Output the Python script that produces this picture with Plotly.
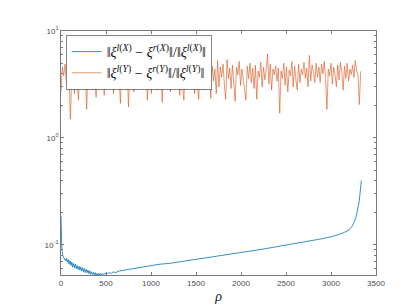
import plotly.graph_objects as go

blue_rho = [0, 5, 10, 20, 30, 40, 50, 60, 70, 80, 90, 100, 110, 120, 130, 140, 150, 160, 170, 180,
            190, 200, 210, 220, 230, 240, 250, 260, 270, 280, 290, 300, 310, 320, 330, 340, 350, 360,
            370, 380, 390, 400, 410, 420, 430, 440, 450, 460, 470, 480, 490, 500, 520, 540, 560, 580,
            600, 650, 700, 800, 900, 1000, 1100, 1200, 1300, 1400, 1500, 1600, 1700, 1800, 1900, 2000,
            2100, 2200, 2300, 2400, 2500, 2600, 2700, 2800, 2900, 3000, 3050, 3100, 3150, 3200, 3230,
            3260, 3280, 3300, 3310, 3320, 3330, 3337]
blue_err = [0.185, 0.12, 0.09, 0.079, 0.076, 0.075, 0.071, 0.075, 0.069, 0.073, 0.066, 0.071, 0.064,
            0.069, 0.062, 0.067, 0.061, 0.066, 0.060, 0.064, 0.059, 0.063, 0.058, 0.062, 0.057, 0.061,
            0.056, 0.060, 0.055, 0.059, 0.055, 0.058, 0.054, 0.057, 0.053, 0.056, 0.053, 0.055, 0.052,
            0.055, 0.052, 0.054, 0.052, 0.054, 0.052, 0.054, 0.052, 0.054, 0.053, 0.054, 0.053, 0.055,
            0.054, 0.055, 0.054, 0.056, 0.055, 0.057, 0.058, 0.060, 0.062, 0.064, 0.066, 0.067, 0.069,
            0.071, 0.073, 0.075, 0.077, 0.079, 0.082, 0.085, 0.087, 0.090, 0.093, 0.096, 0.099, 0.102,
            0.106, 0.110, 0.114, 0.119, 0.122, 0.126, 0.131, 0.138, 0.147, 0.165, 0.185, 0.215, 0.245,
            0.29, 0.35, 0.40]

orange_rho = list(range(0, 3331, 15))
orange_err = [
    2.7, 4.6, 3.8, 4.9, 3.2, 4.4, 3.6, 1.5, 3.9, 4.7,
    2.6, 4.3, 3.1, 2.25, 4.8, 3.5, 4.5, 2.9, 4.1, 1.85,
    4.6, 3.3, 5.0, 2.8, 4.2, 3.7, 2.4, 4.9, 3.4, 4.4,
    3.0, 5.1, 2.5, 4.3, 3.6, 4.8, 2.9, 4.5, 3.8, 2.6,
    4.7, 3.2, 5.2, 3.9, 2.1, 4.4, 3.5, 4.9, 3.1, 4.2,
    1.95, 4.6, 3.7, 5.0, 2.7, 4.3, 3.4, 4.8, 2.9, 4.5,
    3.6, 5.1, 3.0, 4.4, 2.25, 4.7, 3.8, 2.6, 4.9, 3.3,
    4.5, 2.8, 5.0, 3.5, 4.2, 2.15, 4.8, 3.9, 4.4, 3.1,
    5.2, 2.7, 4.6, 3.4, 4.9, 3.0, 4.3, 3.7, 2.5, 4.7,
    3.2, 2.25, 4.5, 3.8, 5.1, 2.9, 4.4, 3.5, 4.8, 2.6,
    4.6, 3.3, 2.3, 4.9, 3.6, 4.2, 2.8, 5.0, 3.1, 4.5,
    3.9, 2.35, 4.7, 3.4, 4.4, 2.6, 5.3, 3.0, 4.6, 3.7,
    4.9, 3.2, 2.3, 5.4, 3.6, 4.5, 2.9, 4.8, 3.5, 2.2,
    4.6, 3.9, 5.2, 3.1, 4.4, 3.4, 2.7, 2.25, 4.7, 3.6,
    5.0, 3.3, 4.5, 2.9, 4.8, 2.3, 4.2, 3.7, 5.1, 3.0,
    4.6, 3.5, 4.3, 6.1, 3.2, 4.9, 2.8, 4.4, 3.9, 4.7,
    3.4, 4.5, 1.7, 4.2, 3.6, 5.0, 3.1, 4.6, 2.7, 4.3,
    3.8, 5.2, 3.0, 4.7, 3.5, 2.8, 4.9, 3.3, 4.4, 3.9,
    5.1, 3.6, 4.5, 3.0, 5.9, 3.4, 4.8, 4.2, 3.3, 5.0,
    3.7, 4.6, 3.3, 4.9, 4.0, 5.2, 3.5, 1.85, 4.4, 3.8,
    5.0, 3.2, 4.6, 3.9, 3.0, 4.8, 3.5, 5.1, 4.1, 2.8,
    4.7, 3.6, 5.0, 3.4, 4.4, 3.9, 4.8, 3.7, 5.3, 4.2,
    3.9, 2.05, 4.2,
]

x_ticks = [0, 500, 1000, 1500, 2000, 2500, 3000, 3500]
y_ticks = [0.1, 1, 10]
y_tick_text = ["10<sup>-1</sup>", "10<sup>0</sup>", "10<sup>1</sup>"]

label_x = "‖<i>ξ</i><sup><i>l</i>(<i>X</i>)</sup> − <i>ξ</i><sup><i>r</i>(<i>X</i>)</sup>‖/‖<i>ξ</i><sup><i>l</i>(<i>X</i>)</sup>‖"
label_y = "‖<i>ξ</i><sup><i>l</i>(<i>Y</i>)</sup> − <i>ξ</i><sup><i>r</i>(<i>Y</i>)</sup>‖/‖<i>ξ</i><sup><i>l</i>(<i>Y</i>)</sup>‖"

fig = go.Figure()
fig.add_trace(go.Scatter(x=blue_rho, y=blue_err, mode="lines", name=label_x,
                         line=dict(color="#0072BD", width=0.8)))
fig.add_trace(go.Scatter(x=orange_rho, y=orange_err, mode="lines", name=label_y,
                         line=dict(color="#D95319", width=0.6)))

axis_color = "#7a7a7a"
tick_font = dict(family="Liberation Sans, Arial, sans-serif", size=8, color="#4d4d4d")

fig.update_layout(
    width=407, height=305,
    margin=dict(l=53, r=39, t=23, b=34),
    paper_bgcolor="white", plot_bgcolor="white",
    showlegend=True,
    legend=dict(x=0.016, y=0.982, xanchor="left", yanchor="top",
                bgcolor="white", bordercolor="#333333", borderwidth=0.6,
                font=dict(family="Liberation Serif, DejaVu Serif, serif", size=14, color="#111111"),
                tracegroupgap=0, itemwidth=30),
    xaxis=dict(range=[0, 3500], tickvals=x_ticks, ticks="inside", ticklen=3,
               showline=True, linecolor=axis_color, linewidth=0.8, mirror="ticks",
               tickcolor=axis_color, tickwidth=0.8,
               showgrid=False, zeroline=False, tickfont=tick_font,
               title=dict(text="<i>ρ</i>", standoff=4,
                          font=dict(family="Liberation Serif, DejaVu Serif, serif", size=14, color="#222222"))),
    yaxis=dict(type="log", range=[-1.282, 1], tickvals=y_ticks, ticktext=y_tick_text,
               ticks="inside", ticklen=3, showline=True, linecolor=axis_color, linewidth=0.8,
               mirror="ticks", tickcolor=axis_color, tickwidth=0.8,
               showgrid=False, zeroline=False, tickfont=tick_font,
               minor=dict(ticks="inside", ticklen=2, tickcolor=axis_color, tickwidth=0.6,
                          dtick="D1", showgrid=False)),
)

fig.write_html("out.html")
